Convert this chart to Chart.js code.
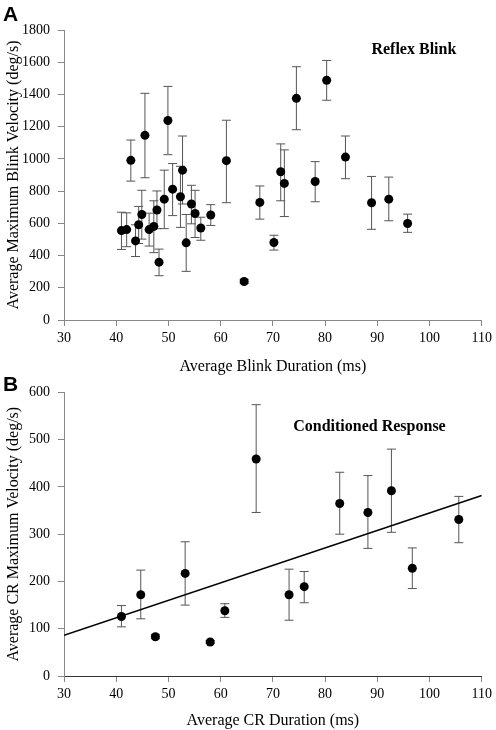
<!DOCTYPE html>
<html>
<head>
<meta charset="utf-8">
<script src="https://cdn.jsdelivr.net/npm/chart.js"></script>
<style>
  body { margin: 0; background: #fff; }
  #wrap { position: relative; width: 496px; height: 730px; }
  canvas { position: absolute; left: 0; }
  .panel { position: absolute; left: 3px; font: bold 21px "Liberation Sans", Arial, sans-serif; }
</style>
</head>
<body>
<div id="wrap">
  <canvas id="chartA" width="496" height="376" style="top:0"></canvas>
  <canvas id="chartB" width="496" height="354" style="top:376px"></canvas>
  <div class="panel" style="top:2px">A</div>
  <div class="panel" style="top:372px">B</div>
</div>
<script>
// panel A: reflex blink
let blinkDur = [41.0, 42.0, 42.8, 43.7, 44.3, 44.9, 45.5, 46.3, 47.2, 47.8, 48.2, 49.2, 49.9, 50.8, 52.3, 52.7, 53.4,
  54.4, 55.1, 56.2, 58.1, 61.1, 64.5, 67.5, 70.2, 71.5, 72.2, 74.5, 78.1, 80.3, 83.9, 88.9, 92.2, 95.8];
let blinkVel = [555, 561, 991, 491, 591, 655, 1146, 561, 581, 683, 359, 750, 1238, 812, 765, 930, 479,
  720, 661, 571, 652, 989, 239, 730, 481, 920, 848, 1376, 860, 1488, 1011, 728, 750, 599];
let blinkHi = [669, 665, 1117, 591, 705, 805, 1407, 663, 740, 801, 440, 930, 1450, 971, 954, 1142, 655,
  836, 805, 638, 716, 1240, 252, 832, 526, 1093, 1056, 1572, 983, 1611, 1142, 891, 887, 657];
let blinkLo = [438, 455, 862, 394, 475, 502, 883, 459, 418, 567, 275, 567, 1026, 648, 575, 720, 302,
  597, 512, 495, 587, 728, 226, 626, 434, 740, 642, 1181, 734, 1364, 877, 563, 616, 544];

// panel B: conditioned response
let crDur = [41.0, 44.7, 47.5, 53.2, 58.0, 60.8, 66.8, 73.1, 76.0, 82.8, 88.2, 92.7, 96.7, 105.6];
let crVel = [126, 172, 83, 217, 72, 138, 459, 172, 189, 365, 346, 392, 228, 331];
let crHi = [149, 224, 88, 284, 75, 153, 574, 226, 221, 431, 424, 480, 271, 380];
let crLo = [104, 121, 79, 150, 69, 124, 346, 118, 155, 300, 270, 304, 185, 282];
let fitX = [30, 110];
let fitY = [86, 382];

let serif = '"Liberation Serif", "Times New Roman", serif';

function pts(xs, ys) {
  return xs.map((x, i) => ({ x: x, y: ys[i] }));
}

// whiskers, drawn under the dots
let errorBars = {
  id: 'errorBars',
  beforeDatasetsDraw(chart) {
    let ctx = chart.ctx;
    let xs = chart.scales.x, ys = chart.scales.y;
    chart.data.datasets.forEach(ds => {
      if (!ds.errHi) return;
      ds.data.forEach((p, i) => {
        let px = xs.getPixelForValue(p.x);
        let top = ys.getPixelForValue(ds.errHi[i]);
        let bot = ys.getPixelForValue(ds.errLo[i]);
        ctx.save();
        ctx.strokeStyle = '#555';
        ctx.lineWidth = 1;
        ctx.beginPath();
        ctx.moveTo(px, top); ctx.lineTo(px, bot);
        ctx.moveTo(px - 4.5, top); ctx.lineTo(px + 4.5, top);
        ctx.moveTo(px - 4.5, bot); ctx.lineTo(px + 4.5, bot);
        ctx.stroke();
        ctx.restore();
      });
    });
  }
};

// bold label inside the plot
let label = {
  id: 'label',
  afterDraw(chart, args, opts) {
    let ctx = chart.ctx;
    ctx.save();
    ctx.font = 'bold 16px ' + serif;
    ctx.fillStyle = '#000';
    ctx.textAlign = 'center';
    ctx.textBaseline = 'middle';
    ctx.fillText(opts.text, chart.scales.x.getPixelForValue(opts.x), chart.scales.y.getPixelForValue(opts.y));
    ctx.restore();
  }
};

function axes(yMax, yStep, yTitle, xTitle, xH, xAxisColor) {
  return {
    x: {
      type: 'linear', min: 30, max: 110,
      afterFit: s => { s.height = xH; },
      ticks: { stepSize: 10, color: '#000', padding: 4, maxRotation: 0, font: { family: serif, size: 14 } },
      grid: { drawOnChartArea: false, tickLength: 6, color: '#888' },
      border: { color: xAxisColor, width: 1 },
      title: { display: true, text: xTitle, color: '#000', padding: { top: 0, bottom: 0 }, font: { family: serif, size: 16 } }
    },
    y: {
      min: 0, max: yMax,
      afterFit: s => { s.width = 64; },
      ticks: { stepSize: yStep, color: '#000', padding: 8, callback: v => v, font: { family: serif, size: 14 } },
      grid: { drawOnChartArea: false, tickLength: 6, color: '#888' },
      border: { color: '#888', width: 1 },
      title: { display: true, text: yTitle, color: '#000', padding: { top: 4, bottom: 0 }, font: { family: serif, size: 16 } }
    }
  };
}

let chartA = new Chart(document.getElementById('chartA').getContext('2d'), {
  type: 'scatter',
  data: {
    datasets: [{
      data: pts(blinkDur, blinkVel),
      errHi: blinkHi,
      errLo: blinkLo,
      pointRadius: 4.5,
      pointBackgroundColor: '#000',
      pointBorderWidth: 0
    }]
  },
  options: {
    responsive: false,
    animation: false,
    layout: { padding: { top: 30, right: 3, left: 0, bottom: 0 } },
    plugins: {
      legend: { display: false },
      tooltip: { enabled: false },
      label: { text: 'Reflex Blink', x: 97, y: 1678 }
    },
    scales: axes(1800, 200, 'Average Maximum Blink Velocity (deg/s)', 'Average Blink Duration (ms)', 56, '#888')
  },
  plugins: [errorBars, label]
});

let chartB = new Chart(document.getElementById('chartB').getContext('2d'), {
  type: 'scatter',
  data: {
    datasets: [{
      data: pts(crDur, crVel),
      errHi: crHi,
      errLo: crLo,
      pointRadius: 4.5,
      pointBackgroundColor: '#000',
      pointBorderWidth: 0
    }, {
      data: pts(fitX, fitY),
      showLine: true,
      borderColor: '#000',
      borderWidth: 1.5,
      pointRadius: 0
    }]
  },
  options: {
    responsive: false,
    animation: false,
    layout: { padding: { top: 5, right: 3, left: 0, bottom: 0 } },
    plugins: {
      legend: { display: false },
      tooltip: { enabled: false },
      label: { text: 'Conditioned Response', x: 88.5, y: 528 }
    },
    scales: axes(600, 100, 'Average CR Maximum Velocity (deg/s)', 'Average CR Duration (ms)', 54, '#333')
  },
  plugins: [errorBars, label]
});
</script>
</body>
</html>
